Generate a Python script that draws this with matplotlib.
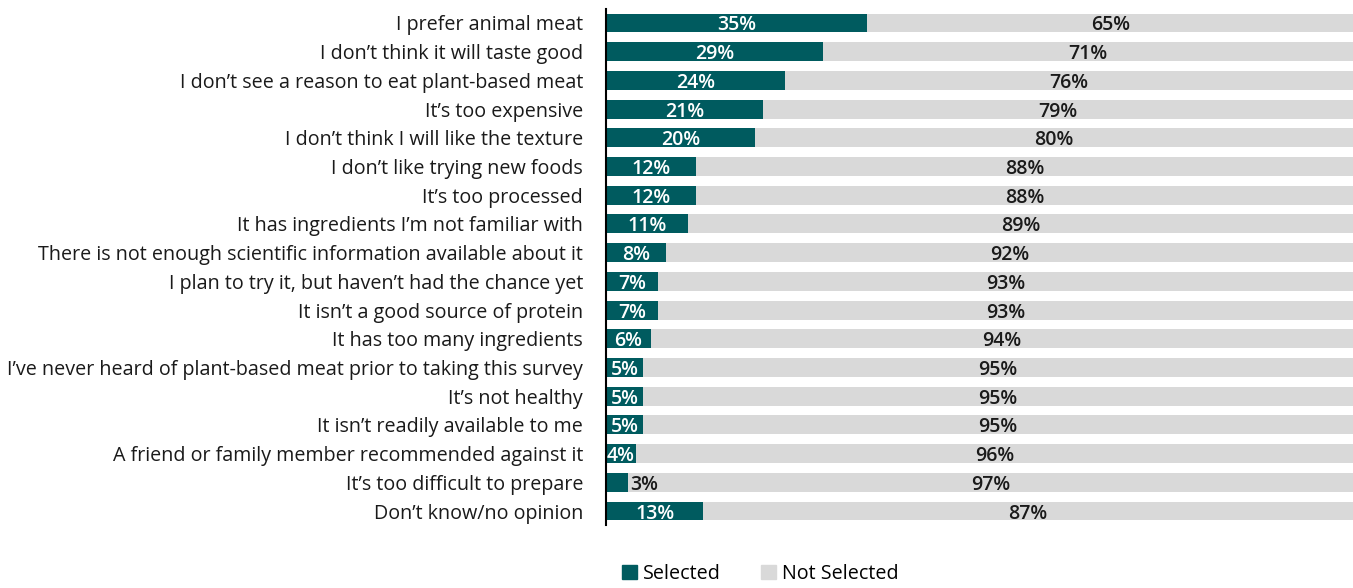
import matplotlib.pyplot as plt
from matplotlib.patches import Patch

reasons = [
    "I prefer animal meat",
    "I don\u2019t think it will taste good",
    "I don\u2019t see a reason to eat plant-based meat",
    "It\u2019s too expensive",
    "I don\u2019t think I will like the texture",
    "I don\u2019t like trying new foods",
    "It\u2019s too processed",
    "It has ingredients I\u2019m not familiar with",
    "There is not enough scientific information available about it",
    "I plan to try it, but haven\u2019t had the chance yet",
    "It isn\u2019t a good source of protein",
    "It has too many ingredients",
    "I\u2019ve never heard of plant-based meat prior to taking this survey",
    "It\u2019s not healthy",
    "It isn\u2019t readily available to me",
    "A friend or family member recommended against it",
    "It\u2019s too difficult to prepare",
    "Don\u2019t know/no opinion",
]
selected = [35, 29, 24, 21, 20, 12, 12, 11, 8, 7, 7, 6, 5, 5, 5, 4, 3, 13]
not_selected = [65, 71, 76, 79, 80, 88, 88, 89, 92, 93, 93, 94, 95, 95, 95, 96, 97, 87]

TEAL = "#005b5f"
GREY = "#d9d9d9"
INK = "#1a1a1a"
plt.rcParams["font.family"] = ["Open Sans", "DejaVu Sans"]

fig = plt.figure(figsize=(13.53, 5.88), dpi=100)
ax = fig.add_axes([0.4479, 0.1065, 0.5521, 0.8788])

y = list(range(len(reasons)))
ax.barh(y, selected, height=0.66, color=TEAL)
ax.barh(y, not_selected, left=selected, height=0.66, color=GREY)

# value labels: white inside the teal bar, dark outside it when the bar is too short
pct = dict(fontsize=14, fontweight="semibold", va="center_baseline")
for i, (s, n) in enumerate(zip(selected, not_selected)):
    if s >= 4:
        ax.text(s / 2, i, f"{s}%", ha="center", color="white", **pct)
    else:
        ax.text(s + 0.2, i, f"{s}%", ha="left", color=INK, **pct)
    ax.text(s + n / 2, i, f"{n}%", ha="center", color=INK, **pct)

ax.set_xlim(0, 100)
ax.set_ylim(len(reasons) - 0.5, -0.5)
ax.set_yticks(y)
ax.set_yticklabels(reasons, fontsize=14.2, color=INK)
ax.tick_params(axis="y", length=0, pad=16.5)
ax.set_xticks([])
for side in ["top", "right", "bottom"]:
    ax.spines[side].set_visible(False)
ax.spines["left"].set_linewidth(1.5)
ax.spines["left"].set_color("black")

handles = [Patch(color=TEAL, label="Selected"), Patch(color=GREY, label="Not Selected")]
fig.legend(handles=handles, loc="center", bbox_to_anchor=(0.562, 0.024), ncol=2,
           frameon=False, handlelength=0.75, handleheight=0.75,
           handletextpad=0.35, columnspacing=2.0, prop={"size": 14.2})

fig.savefig("out.png", dpi=100)
